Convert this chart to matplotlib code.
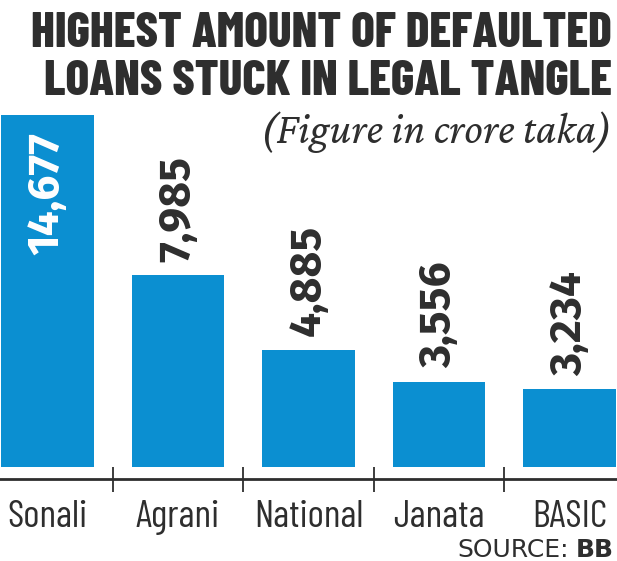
import matplotlib
matplotlib.use("Agg")
import matplotlib.pyplot as plt
import numpy as np

banks = ["Sonali", "Agrani", "National", "Janata", "BASIC"]
amounts = [14677, 7985, 4885, 3556, 3234]
value_labels = ["14,677", "7,985", "4,885", "3,556", "3,234"]

blue = "#0b8fd1"
dark = "#2e2e2e"
narrow = ["Barlow Condensed", "DejaVu Sans"]
valfont = ["Fira Sans", "DejaVu Sans"]

W, H = 617, 561
fig = plt.figure(figsize=(W / 100, H / 100), dpi=100)

# axes: full width, bottom at the axis line (y=479px), top at Sonali bar top (115px)
ax = fig.add_axes([0, (H - 479) / H, 1, (479 - 115) / H])
px_per_unit = (467 - 115) / amounts[0]
ax.set_ylim(-(479 - 467) / px_per_unit, amounts[0])
pitch = 130.5
ax.set_xlim(-47.5 / pitch, (W - 47.5) / pitch)

x = np.arange(len(banks))
ax.bar(x, amounts, width=0.705, color=blue, zorder=2)

for s in ["top", "left", "right"]:
    ax.spines[s].set_visible(False)
ax.spines["bottom"].set_color(dark)
ax.spines["bottom"].set_linewidth(2)
ax.set_yticks([])
ax.set_xticks([])
ax.set_xticks(x[:-1] + 0.5, minor=True)
ax.tick_params(axis="x", which="minor", direction="inout", length=18,
               width=1.3, color=dark)

# category labels below the axis
for xi, name in zip(x, banks):
    ax.annotate(name, xy=(xi, 0), xycoords=("data", "axes fraction"),
                xytext=(0, -34.5), textcoords="offset points",
                ha="center", va="baseline", fontsize=28, color=dark,
                family=narrow)

# value labels, rotated
for i, (v, lab) in enumerate(zip(amounts, value_labels)):
    if i == 0:
        ax.annotate(lab, xy=(i, v), xytext=(0, -12), textcoords="offset points",
                    ha="center", va="top", rotation=90, fontsize=32,
                    fontweight="bold", color="white", family=valfont)
    else:
        ax.annotate(lab, xy=(i, v), xytext=(0, 10), textcoords="offset points",
                    ha="center", va="bottom", rotation=90, fontsize=32,
                    fontweight="bold", color=dark, family=valfont)

# titles
fig.text(612 / W, 1 - 47 / H, "HIGHEST AMOUNT OF DEFAULTED", ha="right",
         va="baseline", fontsize=35.5, fontweight="heavy", color=dark, family=narrow)
fig.text(612 / W, 1 - 95 / H, "LOANS STUCK IN LEGAL TANGLE", ha="right",
         va="baseline", fontsize=35.5, fontweight="heavy", color=dark, family=narrow)
fig.text(612 / W, 1 - 143 / H, "(Figure in crore taka)", ha="right",
         va="baseline", fontsize=31.5, fontstyle="italic", color=dark,
         family=["Crimson Pro", "Liberation Serif"])

# source line
bb = fig.text(614 / W, 1 - 557 / H, "BB", ha="right", va="baseline",
              fontsize=18, fontweight="bold", color=dark, family="DejaVu Sans")
fig.canvas.draw()
ext = bb.get_window_extent()
fig.text((ext.x0 - 7) / W, 1 - 557 / H, "SOURCE:", ha="right", va="baseline",
         fontsize=18, color=dark, family="DejaVu Sans")

fig.savefig("out.png", dpi=100)
